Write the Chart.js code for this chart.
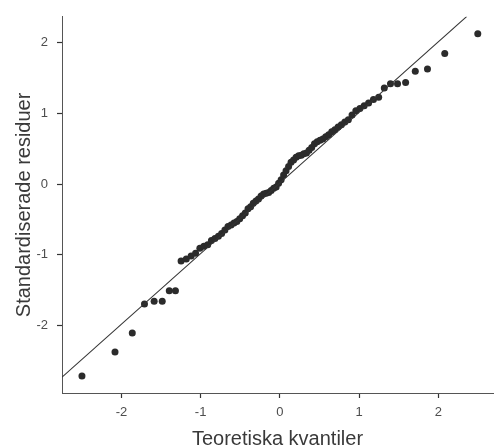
<!DOCTYPE html>
<html>
<head>
<meta charset="utf-8">
<script src="https://cdn.jsdelivr.net/npm/chart.js@4"></script>
<style>
  body { margin: 0; background: #fff; }
</style>
</head>
<body>
<canvas id="qqplot" width="497" height="448"></canvas>
<script>
// theoretical normal quantiles (n = 80)
var theoQ = [-2.498, -2.081, -1.863, -1.709, -1.587, -1.485, -1.396, -1.318, -1.247, -1.181,
  -1.120, -1.064, -1.010, -0.959, -0.911, -0.864, -0.820, -0.776, -0.735, -0.694,
  -0.655, -0.616, -0.579, -0.543, -0.507, -0.471, -0.437, -0.402, -0.369, -0.336,
  -0.302, -0.270, -0.237, -0.205, -0.173, -0.141, -0.110, -0.078, -0.047, -0.016,
  0.016, 0.047, 0.078, 0.110, 0.141, 0.173, 0.205, 0.237, 0.270, 0.302,
  0.336, 0.369, 0.402, 0.437, 0.471, 0.507, 0.543, 0.579, 0.616, 0.655,
  0.694, 0.735, 0.776, 0.820, 0.864, 0.911, 0.959, 1.010, 1.064, 1.120,
  1.181, 1.247, 1.318, 1.396, 1.485, 1.587, 1.709, 1.863, 2.081, 2.498];
// standardised residuals
var stdRes = [-2.72, -2.38, -2.11, -1.70, -1.66, -1.66, -1.51, -1.51, -1.09, -1.06,
  -1.02, -0.98, -0.91, -0.88, -0.86, -0.80, -0.77, -0.74, -0.70, -0.65,
  -0.60, -0.58, -0.55, -0.53, -0.49, -0.45, -0.41, -0.35, -0.32, -0.27,
  -0.24, -0.21, -0.17, -0.14, -0.13, -0.12, -0.09, -0.06, -0.04, 0.01,
  0.06, 0.13, 0.19, 0.25, 0.31, 0.34, 0.38, 0.40, 0.41, 0.43,
  0.44, 0.48, 0.52, 0.57, 0.60, 0.62, 0.64, 0.67, 0.70, 0.74,
  0.77, 0.81, 0.84, 0.88, 0.91, 0.98, 1.04, 1.07, 1.11, 1.15,
  1.20, 1.23, 1.36, 1.42, 1.42, 1.44, 1.60, 1.63, 1.85, 2.13];
// reference line endpoints
var lineX = [-2.75, 2.36];
var lineY = [-2.735, 2.375];
var xTicks = [-2, -1, 0, 1, 2];
var yTicks = [-2, -1, 0, 1, 2];

var pts = theoQ.map(function (x, i) { return {x: x, y: stdRes[i]}; });
var refLine = lineX.map(function (x, i) { return {x: x, y: lineY[i]}; });

var axisGrey = '#555555';
var textGrey = '#4d4d4d';
var fontFam = '"Liberation Sans", Arial, Helvetica, sans-serif';

function fixTicks(list) {
  return function (scale) {
    scale.ticks = list.map(function (v) { return {value: v}; });
  };
}

var config = {
  type: 'scatter',
  data: {
    datasets: [{
      data: refLine,
      showLine: true,
      borderColor: '#333333',
      borderWidth: 1.1,
      pointRadius: 0,
      fill: false
    }, {
      data: pts,
      backgroundColor: '#2b2b2b',
      borderColor: '#2b2b2b',
      borderWidth: 0,
      pointRadius: 3.5
    }]
  },
  options: {
    responsive: false,
    animation: false,
    layout: {padding: {top: 13, right: 0, left: 0, bottom: 0}},
    plugins: {legend: {display: false}, tooltip: {enabled: false}},
    scales: {
      x: {
        type: 'linear',
        min: -2.75,
        max: 2.69,
        afterBuildTicks: fixTicks(xTicks),
        afterFit: function (s) { s.height = 55; },
        border: {display: true, color: axisGrey, width: 1},
        grid: {drawOnChartArea: false, tickLength: 5, tickColor: '#333', tickWidth: 1.2},
        ticks: {color: textGrey, padding: 7, font: {family: fontFam, size: 13}},
        title: {display: true, text: 'Teoretiska kvantiler', color: '#3a3a3a',
          padding: {top: 0, bottom: -3}, font: {family: fontFam, size: 20}}
      },
      y: {
        type: 'linear',
        min: -2.96,
        max: 2.37,
        afterBuildTicks: fixTicks(yTicks),
        afterFit: function (s) { s.width = 62; },
        border: {display: true, color: axisGrey, width: 1},
        grid: {drawOnChartArea: false, tickLength: 5, tickColor: '#333', tickWidth: 1.2},
        ticks: {color: textGrey, padding: 9, font: {family: fontFam, size: 13}},
        title: {display: true, text: 'Standardiserade residuer', color: '#3a3a3a',
          padding: {top: 12, bottom: 0}, font: {family: fontFam, size: 20}}
      }
    }
  }
};

var chart = new Chart(document.getElementById('qqplot'), config);
</script>
</body>
</html>
